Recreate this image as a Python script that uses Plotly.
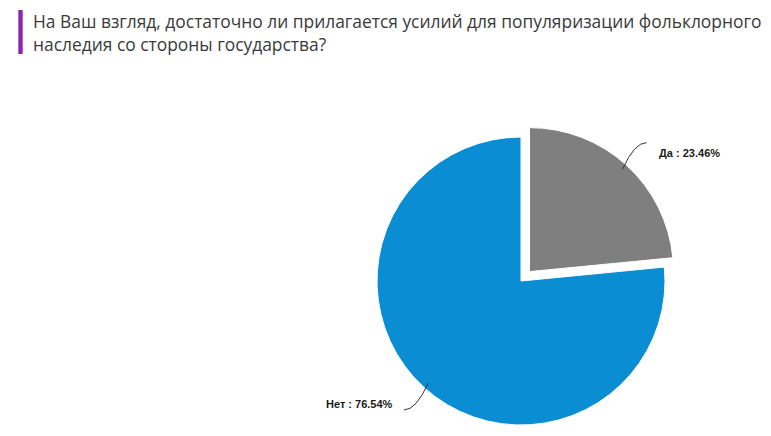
import math
import plotly.graph_objects as go

labels = ["Да", "Нет"]
values = [23.46, 76.54]
colors = ["#7f7f7f", "#0a8dd3"]
pulls = [0.088, 0]

title = ("На Ваш взгляд, достаточно ли прилагается усилий для популяризации фольклорного<br>"
         "наследия со стороны государства?")

W, H = 771, 436
OFF = 8  # page body margin, positions below are in window pixels
# pie centre and radius in pixels
CX, CY, R = 521 - OFF, 281 - OFF, 144
half = R * (1 + max(pulls))

fig = go.Figure()
fig.add_trace(go.Pie(
    labels=labels,
    values=values,
    sort=False,
    direction="clockwise",
    rotation=0,
    pull=pulls,
    marker=dict(colors=colors, line=dict(color="white", width=1)),
    textinfo="none",
    textposition="none",
    hoverinfo="label+percent",
    showlegend=False,
    domain=dict(x=[(CX - half) / W, (CX + half) / W],
                y=[max(0, 1 - (CY + half) / H), 1 - (CY - half) / H]),
))


def px(x, y):
    return "%.5f %.5f" % (x / W, 1 - y / H)


# outside labels with curved leader lines
total = sum(values)
start = 0
for lab, val, pl in zip(labels, values, pulls):
    mid = math.radians((start + val / 2) / total * 360)
    start += val
    sx, sy = math.sin(mid), -math.cos(mid)
    ox, oy = CX + pl * R * sx, CY + pl * R * sy
    x0, y0 = ox + 0.96 * R * sx, oy + 0.96 * R * sy
    x1, y1 = ox + 1.21 * R * sx, oy + 1.21 * R * sy
    ctrl = ((x0 + x1) / 2, y1)
    fig.add_shape(type="path", xref="paper", yref="paper",
                  path="M %s Q %s %s" % (px(x0, y0), px(*ctrl), px(x1, y1)),
                  line=dict(color="#333", width=1))
    right = sx > 0
    fig.add_annotation(xref="paper", yref="paper", x=x1 / W, y=1 - y1 / H,
                       text="%s : %.2f%%" % (lab, val), showarrow=False,
                       xanchor="left" if right else "right",
                       xshift=10 if right else -9, yshift=-2,
                       font=dict(family="Liberation Sans", size=11,
                                 color="#1a1a1a", weight="bold"))

# purple accent bar next to the title
fig.add_shape(type="rect", xref="paper", yref="paper",
              x0=(18.3 - OFF) / W, x1=(22.7 - OFF) / W,
              y0=1 - (54 - OFF) / H, y1=1 - (10 - OFF) / H,
              fillcolor="#9124a8", line_width=0)

fig.add_annotation(text=title, xref="paper", yref="paper",
                   x=(31 - OFF) / W, y=1 - (32 - OFF) / H,
                   xanchor="left", yanchor="middle",
                   align="left", showarrow=False,
                   font=dict(family="Open Sans", size=17.4, color="#3a3a3a"))

fig.update_layout(
    width=W, height=H,
    margin=dict(l=0, r=0, t=0, b=0),
    paper_bgcolor="white",
    plot_bgcolor="white",
)

fig.write_html("out.html")
